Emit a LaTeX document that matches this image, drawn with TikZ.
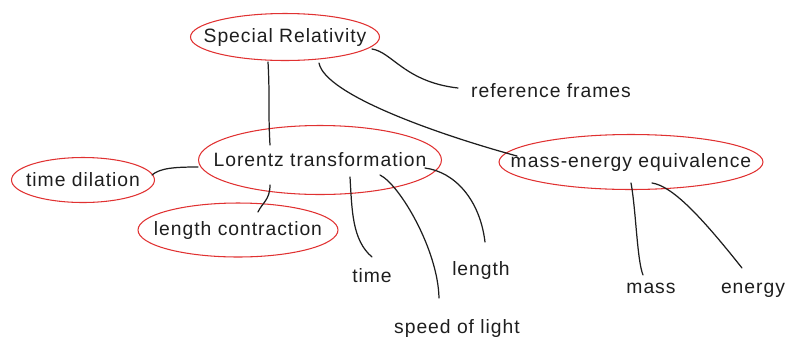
\documentclass[tikz,border=0pt]{standalone}
\usepackage{fontspec}
\setmainfont[LetterSpace=5]{Liberation Sans}
\usepackage{xcolor}
\usepackage{tikz}
\usetikzlibrary{shapes.geometric,calc}
\definecolor{ink}{HTML}{1E1E1E}
\definecolor{ring}{HTML}{E03131}

\begin{document}
\begin{tikzpicture}[
    x=0.02cm, y=-0.02cm,
    bubble/.style={draw=ring, line width=0.6pt, ellipse, inner sep=0pt, text=ink, font=\fontsize{11}{13}\selectfont},
    leaf/.style={anchor=base, inner sep=0pt, text=ink, font=\fontsize{11}{13}\selectfont},
    link/.style={draw=ink, line width=0.7pt, line cap=round}
]
\useasboundingbox (0,0) rectangle (785,339);

\node[bubble, minimum width=3.78cm, minimum height=0.94cm] (sr) at (285,37) {\makebox[0pt]{Special Relativity}};
\node[bubble, minimum width=4.86cm, minimum height=1.38cm] (lt) at (320,160) {\makebox[0pt]{Lorentz transformation}};
\node[bubble, minimum width=2.86cm, minimum height=0.90cm] (td) at (83,180) {\makebox[0pt]{time dilation}};
\node[bubble, minimum width=4.00cm, minimum height=1.08cm] (lc) at (238,230) {\makebox[0pt]{length contraction}};
\node[bubble, minimum width=5.28cm, minimum height=1.10cm] (me) at (631,162) {\makebox[0pt]{mass-energy equivalence}};

\node[leaf] (rf) at (551,97) {reference frames};
\node[leaf] (time) at (372,282) {time};
\node[leaf] (length) at (481,275) {length};
\node[leaf] (speed) at (457,333) {speed of light};
\node[leaf] (mass) at (651,293) {mass};
\node[leaf] (energy) at (753,293) {energy};

\draw[link] ($(sr)+(-17,25)$) .. controls +(2,35) and +(-2,-35) .. ($(lt)+(-50,-15)$);
\draw[link] ($(sr)+(87,12)$) .. controls +(20,3) and +(-53,-6) .. ($(rf.base)+(-93,-9)$);
\draw[link] ($(sr)+(34,26)$) .. controls +(6,32) and +(-77,-21) .. ($(me)+(-114,-6)$);
\draw[link] ($(lt)+(-122,7)$) .. controls +(-23,0) and +(8,-7) .. ($(td)+(69,-5)$);
\draw[link] ($(lt)+(-50,25)$) .. controls +(0,15) and +(4,-9) .. ($(lc)+(20,-18)$);
\draw[link] ($(lt)+(30,17)$) .. controls +(2,33) and +(-20,-17) .. ($(time.base)+(0,-25)$);
\draw[link] ($(lt)+(60,15)$) .. controls +(20,10) and +(-1,-48) .. ($(speed.base)+(-18,-35)$);
\draw[link] ($(lt)+(105,8)$) .. controls +(30,4) and +(-5,-42) .. ($(length.base)+(4,-33)$);
\draw[link] ($(me)+(0,21)$) .. controls +(5,27) and +(-6,-15) .. ($(mass.base)+(-8,-18)$);
\draw[link] ($(me)+(21,21)$) .. controls +(20,3) and +(-42,-53) .. ($(energy.base)+(-11,-25)$);
\end{tikzpicture}
\end{document}
